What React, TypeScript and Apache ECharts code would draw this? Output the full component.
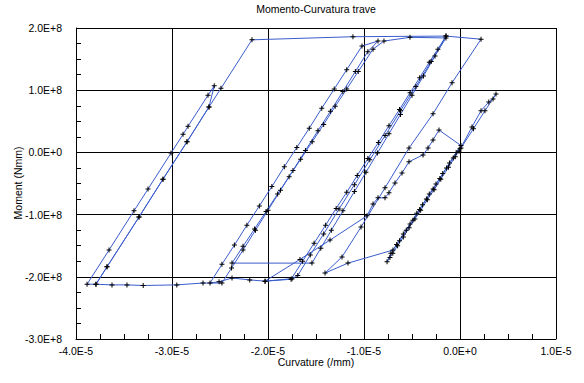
import React, { useEffect, useRef } from 'react';
import * as echarts from 'echarts';

// Curvature (1/mm) and moment (Nmm) samples, in drawing order
const curvature = [
  -0.1e-6, 1.25e-6, 2.19e-6, 3.0e-6, 3.44e-6, 3.75e-6,
  2.6e-6, 1.4e-6, 0.1e-6, -0.5e-6, -1.2e-6, -2.0e-6, -2.7e-6, -3.4e-6, -4.1e-6, -4.7e-6, -5.3e-6, -5.9e-6, -6.5e-6, -7.0e-6, -7.3e-6, -7.6e-6,
  -7.2e-6, -6.6e-6, -5.9e-6, -5.2e-6, -4.5e-6, -3.9e-6, -3.2e-6, -2.5e-6, -1.8e-6, -1.1e-6, -0.4e-6, 0.1e-6,
  -2.19e-6, -2.81e-6, -3.33e-6, -3.85e-6, -5.31e-6, -6.04e-6, -6.77e-6, -7.40e-6, -7.81e-6, -8.54e-6, -9.06e-6, -9.69e-6,
  -13.54e-6, -16.67e-6, -20.31e-6,
  -17.6e-6,
  -16.4e-6, -15.2e-6, -14.0e-6, -12.9e-6, -11.8e-6, -10.7e-6, -9.6e-6, -8.5e-6, -7.4e-6, -6.3e-6, -5.2e-6, -4.2e-6, -3.2e-6, -2.3e-6, -1.46e-6,
  -2.6e-6, -3.8e-6, -5.0e-6, -6.2e-6, -7.4e-6, -8.6e-6, -9.8e-6, -11.0e-6, -12.2e-6, -13.4e-6, -14.5e-6, -15.42e-6,
  -23.75e-6,
  -22.6e-6, -21.4e-6, -20.2e-6, -19.0e-6, -17.8e-6, -16.6e-6, -15.4e-6, -14.2e-6, -13.0e-6, -11.8e-6, -10.6e-6, -9.06e-6, -7.92e-6,
  -5.21e-6, -1.46e-6,
  -3.0e-6, -4.6e-6, -6.2e-6, -7.8e-6, -9.4e-6, -11.0e-6, -12.6e-6, -14.2e-6, -15.6e-6, -16.9e-6,
  -17.5e-6, -20.3e-6, -21.9e-6, -23.75e-6, -25.1e-6, -26.04e-6,
  -24.8e-6, -23.5e-6, -22.2e-6, -20.9e-6, -19.6e-6, -18.3e-6, -17.0e-6, -15.7e-6, -14.4e-6, -13.1e-6, -11.8e-6, -10.21e-6, -8.54e-6,
  -9.6e-6, -10.9e-6, -12.2e-6, -13.5e-6, -14.8e-6, -16.1e-6, -17.4e-6, -18.7e-6, -20.0e-6, -21.3e-6, -22.6e-6, -23.8e-6, -24.8e-6,
  -26.77e-6, -29.5e-6, -33.0e-6, -34.69e-6, -36.25e-6, -37.92e-6, -38.85e-6,
  -36.56e-6, -33.96e-6, -32.5e-6, -30.1e-6, -28.85e-6, -28.33e-6, -26.25e-6, -25.6e-6,
  -26.15e-6, -28.44e-6, -30.94e-6, -33.44e-6, -36.77e-6, -37.92e-6,
  -36.77e-6, -33.44e-6, -30.94e-6, -28.44e-6, -26.15e-6, -24.9e-6, -21.67e-6,
  -11.15e-6, -1.46e-6, 2.19e-6,
  -0.83e-6, -2.81e-6, -5.31e-6, -7.81e-6, -10.31e-6, -12.29e-6,
  -14.06e-6, -11.67e-6, -6.98e-6,
  -6.3e-6, -5.6e-6, -4.9e-6, -4.2e-6, -3.5e-6, -2.8e-6, -2.1e-6, -1.4e-6, -0.7e-6, 0.0,
];

const moment = [
  0.02e8, 0.41e8, 0.67e8, 0.81e8, 0.86e8, 0.94e8,
  0.67e8, 0.38e8, 0.07e8, -0.07e8, -0.24e8, -0.43e8, -0.60e8, -0.76e8, -0.93e8, -1.07e8, -1.21e8, -1.36e8, -1.50e8, -1.62e8, -1.69e8, -1.76e8,
  -1.62e8, -1.48e8, -1.31e8, -1.15e8, -0.98e8, -0.84e8, -0.67e8, -0.51e8, -0.34e8, -0.17e8, 0.0, 0.11e8,
  0.36e8, 0.20e8, 0.07e8, -0.04e8, -0.15e8, -0.33e8, -0.49e8, -0.65e8, -0.73e8, -0.73e8, -0.83e8, -1.02e8,
  -1.41e8, -1.72e8, -2.07e8,
  -2.04e8,
  -1.75e8, -1.46e8, -1.17e8, -0.90e8, -0.64e8, -0.37e8, -0.10e8, 0.16e8, 0.43e8, 0.69e8, 0.96e8, 1.20e8, 1.45e8, 1.66e8, 1.87e8,
  1.55e8, 1.23e8, 0.92e8, 0.61e8, 0.30e8, -0.01e8, -0.32e8, -0.63e8, -0.94e8, -1.25e8, -1.54e8, -1.78e8,
  -1.78e8,
  -1.51e8, -1.23e8, -0.95e8, -0.67e8, -0.39e8, -0.11e8, 0.17e8, 0.45e8, 0.74e8, 1.02e8, 1.30e8, 1.66e8, 1.79e8,
  1.85e8, 1.84e8,
  1.46e8, 1.06e8, 0.67e8, 0.27e8, -0.12e8, -0.52e8, -0.91e8, -1.31e8, -1.65e8, -1.98e8,
  -2.03e8, -2.07e8, -2.05e8, -2.02e8, -2.08e8, -2.10e8,
  -1.80e8, -1.49e8, -1.17e8, -0.86e8, -0.55e8, -0.23e8, 0.08e8, 0.39e8, 0.71e8, 1.02e8, 1.33e8, 1.71e8, 1.79e8,
  1.62e8, 1.30e8, 0.98e8, 0.66e8, 0.35e8, 0.03e8, -0.29e8, -0.61e8, -0.93e8, -1.25e8, -1.57e8, -1.86e8, -2.10e8,
  -2.10e8, -2.13e8, -2.14e8, -2.13e8, -2.13e8, -2.12e8, -2.12e8,
  -1.57e8, -0.94e8, -0.59e8, -0.01e8, 0.29e8, 0.42e8, 0.92e8, 1.07e8,
  0.73e8, 0.17e8, -0.43e8, -1.04e8, -1.84e8, -2.12e8,
  -1.84e8, -1.04e8, -0.43e8, 0.17e8, 0.73e8, 1.03e8, 1.81e8,
  1.86e8, 1.87e8, 1.82e8,
  1.12e8, 0.62e8, 0.07e8, -0.57e8, -1.20e8, -1.68e8,
  -1.94e8, -1.78e8, -1.57e8,
  -1.42e8, -1.25e8, -1.09e8, -0.92e8, -0.75e8, -0.59e8, -0.42e8, -0.25e8, -0.09e8, 0.06e8,
];

const xMin = -4e-5;
const xMax = 1e-5;
const xStep = 1e-5;
const yMin = -3e8;
const yMax = 2e8;
const yStep = 1e8;

const titleText = 'Momento-Curvatura trave';
const xName = 'Curvature (/mm)';
const yName = 'Moment (Nmm)';

const FONT = '"Liberation Sans", Arial, sans-serif';

function fmt(v: number): string {
  if (Math.abs(v) < 1e-20) return '0.0E+0';
  const e = Math.floor(Math.log10(Math.abs(v)) + 1e-9);
  const m = v / Math.pow(10, e);
  return m.toFixed(1) + 'E' + (e >= 0 ? '+' : '-') + Math.abs(e);
}

export default function App() {
  const ref = useRef<HTMLDivElement>(null);
  useEffect(() => {
    document.body.style.margin = '0';
    const chart = echarts.init(ref.current!, null, { renderer: 'svg' });
    const data = curvature.map((c, i) => [c, moment[i]]);
    const axisCommon = {
      type: 'value',
      axisLine: { show: true, onZero: false, lineStyle: { color: '#000', width: 1 } },
      axisTick: { show: false, inside: true },
      minorTick: { show: true, splitNumber: 4, length: 5, lineStyle: { color: '#000', width: 1 } },
      splitLine: { show: true, lineStyle: { color: '#000', width: 1 } },
      minorSplitLine: { show: false },
    };
    chart.setOption({
      animation: false,
      backgroundColor: '#fff',
      grid: { left: 76, right: 28, top: 28, bottom: 44, containLabel: false, outerBoundsMode: 'none' },
      xAxis: {
        ...axisCommon,
        min: xMin,
        max: xMax,
        interval: xStep,
        axisLabel: {
          formatter: fmt,
          color: '#000',
          fontSize: 10.5,
          fontFamily: FONT,
          margin: 6,
          showMinLabel: true,
          showMaxLabel: true,
          hideOverlap: false,
        },
      },
      yAxis: {
        ...axisCommon,
        min: yMin,
        max: yMax,
        interval: yStep,
        axisLabel: {
          formatter: fmt,
          color: '#000',
          fontSize: 10.5,
          fontFamily: FONT,
          margin: 14,
          showMinLabel: true,
          showMaxLabel: true,
          hideOverlap: false,
        },
      },
      graphic: [
        { type: 'text', x: 316, y: 9, style: { text: titleText, fill: '#000', font: `10.5px ${FONT}`, align: 'center', verticalAlign: 'middle' } },
        { type: 'text', x: 316, y: 362, style: { text: xName, fill: '#000', font: `10.5px ${FONT}`, align: 'center', verticalAlign: 'middle' } },
        { type: 'text', x: 18, y: 183, rotation: Math.PI / 2, style: { text: yName, fill: '#000', font: `10.5px ${FONT}`, align: 'center', verticalAlign: 'middle' } },
      ],
      series: [
        {
          type: 'line',
          data,
          symbol: 'path://M2,0h1v2h2v1h-2v2h-1v-2h-2v-1h2z',
          symbolSize: 5,
          showSymbol: true,
          showAllSymbol: true,
          lineStyle: { color: '#3a5ccc', width: 1 },
          itemStyle: { color: '#000' },
          emphasis: { disabled: true },
          silent: true,
          z: 3,
        },
      ],
    });
    return () => chart.dispose();
  }, []);
  return (
    <div
      ref={ref}
      style={{ position: 'absolute', left: 0, top: 0, width: 584, height: 383, background: '#fff' }}
    />
  );
}
